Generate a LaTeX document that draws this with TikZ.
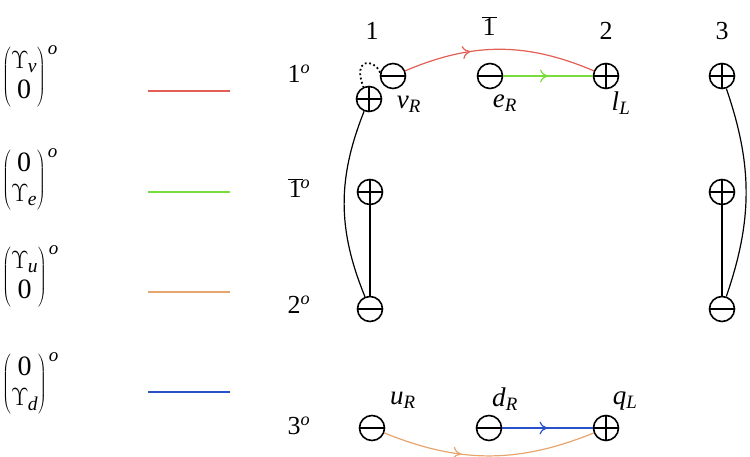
\documentclass[tikz,border=0pt]{standalone}
\usepackage{fontspec}
\setmainfont{Liberation Serif}
\usetikzlibrary{arrows.meta,decorations.markings}
\definecolor{redc}{RGB}{225,95,85}
\definecolor{greenc}{RGB}{120,220,60}
\definecolor{orangec}{RGB}{230,165,110}
\definecolor{bluec}{RGB}{40,80,200}
\newcommand{\myups}[1]{$\Upsilon$\kern-1pt\textsubscript{\textit{#1}}}
\newcommand{\mycolvec}[2]{$\left(\begin{tabular}{@{}c@{}}#1\\[-1pt]#2\end{tabular}\right)^{\hbox{\fontsize{19}{21}\selectfont\kern2pt\textit{o}}}$}
\begin{document}
\begin{tikzpicture}[x=1pt,y=-1pt,
  charge/.style={circle,draw,line width=1.6pt,minimum size=25pt,inner sep=0pt},
  plus/.style={charge,path picture={\draw[line width=1.3pt] (path picture bounding box.north)--(path picture bounding box.south) (path picture bounding box.west)--(path picture bounding box.east);}},
  minus/.style={charge,path picture={\draw[line width=1.8pt] (path picture bounding box.west)--(path picture bounding box.east);}},
  lab/.style={font=\fontsize{26}{30}\selectfont, inner sep=0pt},
  plab/.style={font=\fontsize{27}{30}\selectfont, inner sep=0pt},
  vec/.style={font=\fontsize{28}{31}\selectfont, inner sep=0pt, anchor=west},
  conn/.style={line width=1.2pt},
  legend/.style={line width=2pt},
  midarrow/.style={postaction={decorate},decoration={markings,mark=at position #1 with {\arrow{To[length=8pt,width=13pt]}}}}
  ]
\useasboundingbox (0,0) rectangle (750,457);
% legend
\node[vec] (v1) at (2,77) {\mycolvec{\myups{ν}}{0}};
\node[vec] (v2) at (2,180) {\mycolvec{0}{\myups{e}}};
\node[vec] (v3) at (2,277) {\mycolvec{\myups{u}}{0}};
\node[vec] (v4) at (2,384) {\mycolvec{0}{\myups{d}}};
\coordinate (l1a) at (148,91); \coordinate (l1b) at (230,91);
\coordinate (l2a) at (148,192); \coordinate (l2b) at (230,192);
\coordinate (l3a) at (148,292); \coordinate (l3b) at (230,292);
\coordinate (l4a) at (148,392); \coordinate (l4b) at (230,392);
\draw[legend,redc] (l1a)--(l1b);
\draw[legend,greenc] (l2a)--(l2b);
\draw[legend,orangec] (l3a)--(l3b);
\draw[legend,bluec] (l4a)--(l4b);
% column labels
\node[lab] (c1) at (372,31) {1};
\node[lab] (c1b) at (489,26) {$\overline{\hbox{\kern1pt1\kern1pt}}$};
\node[lab] (c2) at (606,31) {2};
\node[lab] (c3) at (722,31) {3};
% row labels
\node[lab] (r1) at (299,74) {1\textsuperscript{\textit{o}}};
\node[lab] (r1b) at (299,188) {$\overline{\hbox{\kern1pt1\kern1pt}}$\kern-2pt\textsuperscript{\textit{o}}};
\node[lab] (r2) at (299,305) {2\textsuperscript{\textit{o}}};
\node[lab] (r3) at (299,426) {3\textsuperscript{\textit{o}}};
% charges
\node[minus] (nu) at (393,76) {};
\node[plus] (p1) at (369,99) {};
\node[minus] (eR) at (490,76) {};
\node[plus] (lL) at (606,76) {};
\node[plus] (p3) at (722,76) {};
\node[plus] (pb1) at (370,192) {};
\node[minus] (m21) at (370,309) {};
\node[plus] (pb3) at (722,192) {};
\node[minus] (m23) at (722,309) {};
\node[minus] (uR) at (372,428) {};
\node[minus] (dR) at (489,428) {};
\node[plus] (qL) at (606,428) {};
% particle labels
\node[plab] (tnu) at (409,104) {\textit{ν}\textsubscript{\textit{R}}};
\node[plab] (teR) at (505,103) {\textit{e}\textsubscript{\textit{R}}};
\node[plab] (tlL) at (621,103) {\textit{l}\textsubscript{\textit{L}}};
\node[plab] (tuR) at (403,400) {\textit{u}\textsubscript{\textit{R}}};
\node[plab] (tdR) at (505,399) {\textit{d}\textsubscript{\textit{R}}};
\node[plab] (tqL) at (625,401) {\textit{q}\textsubscript{\textit{L}}};
% connectors
\draw[line width=1.8pt,dash pattern=on 1.8pt off 2.6pt] (nu.165) .. controls (374,58) and (352,58) .. (p1.115);
\draw[conn] (p1) to[bend right=22] (m21);
\draw[conn] (pb1) -- (m21);
\draw[conn] (p3) to[bend left=19] (m23);
\draw[conn] (pb3) -- (m23);
\draw[conn,redc,midarrow=0.35] (nu) to[bend left=23] (lL);
\draw[conn,greenc,midarrow=0.5] (eR) -- (lL);
\draw[conn,bluec,midarrow=0.5] (dR) -- (qL);
\draw[conn,orangec,midarrow=0.37] (uR) to[bend right=22] (qL);
\end{tikzpicture}
\end{document}
